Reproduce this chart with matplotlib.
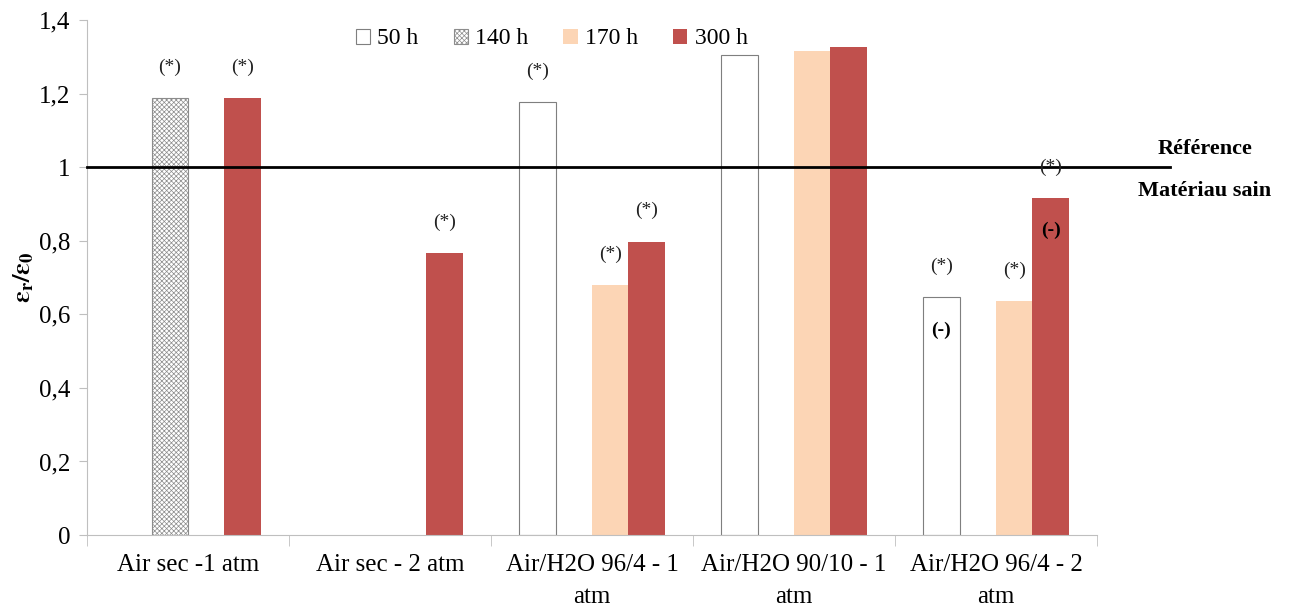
import numpy as np
import matplotlib
matplotlib.use('Agg')
import matplotlib.pyplot as plt
from matplotlib.patches import Patch

plt.rcParams['font.family'] = ['Liberation Serif', 'DejaVu Serif']
plt.rcParams['mathtext.fontset'] = 'stix'
plt.rcParams['hatch.linewidth'] = 0.5

categories = ['Air sec -1 atm', 'Air sec - 2 atm', 'Air/H2O 96/4 - 1\natm',
              'Air/H2O 90/10 - 1\natm', 'Air/H2O 96/4 - 2\natm']
series = ['50 h', '140 h', '170 h', '300 h']
# None = no bar for that duration
values = {
    '50 h':  [None, None, 1.178, 1.306, 0.646],
    '140 h': [1.188, None, None, None, None],
    '170 h': [None, None, 0.679, 1.316, 0.636],
    '300 h': [1.187, 0.766, 0.798, 1.327, 0.916],
}
# annotations placed above bars: (series, group)
star_marks = [('140 h', 0), ('300 h', 0), ('300 h', 1), ('50 h', 2), ('170 h', 2),
              ('300 h', 2), ('50 h', 4), ('170 h', 4), ('300 h', 4)]
minus_marks = [('50 h', 4), ('300 h', 4)]

styles = {
    '50 h':  dict(facecolor='white', edgecolor='#7f7f7f', linewidth=0.8),
    '140 h': dict(facecolor='white', edgecolor='#8c8c8c', linewidth=0.8, hatch='xxxxxxx'),
    '170 h': dict(facecolor='#FCD5B5', edgecolor='#FCD5B5', linewidth=0.0),
    '300 h': dict(facecolor='#C0504D', edgecolor='#C0504D', linewidth=0.0),
}

fig = plt.figure(figsize=(12.93, 6.08), dpi=100)
ax = fig.add_axes([0.0673, 0.12, 0.7811, 0.847])

x = np.arange(len(categories))
w = 0.18
offsets = {s: (i - 1.5) * w for i, s in enumerate(series)}

for s in series:
    xs = [x[i] + offsets[s] for i, v in enumerate(values[s]) if v is not None]
    ys = [v for v in values[s] if v is not None]
    ax.bar(xs, ys, width=w, zorder=2, **styles[s])

for s, g in star_marks:
    v = values[s][g]
    ax.text(x[g] + offsets[s], v + 0.06, '(*)', ha='center', va='bottom',
            fontsize=14, color='#222222', zorder=4)
for s, g in minus_marks:
    v = values[s][g]
    ax.text(x[g] + offsets[s], v - 0.065, '(-)', ha='center', va='top',
            fontsize=14, fontweight='bold', color='black', zorder=4)

# reference line at 1 extending past the plot area
trans = ax.get_yaxis_transform()
ax.plot([0, 1.072], [1, 1], color='black', linewidth=2, transform=trans,
        clip_on=False, zorder=3)
ax.text(1.107, 1.05, 'Référence', transform=trans, ha='center', va='center',
        fontsize=16, fontweight='bold')
ax.text(1.107, 0.935, 'Matériau sain', transform=trans, ha='center', va='center',
        fontsize=16, fontweight='bold')

ax.set_xlim(-0.5, len(categories) - 0.5)
ax.set_ylim(0, 1.4)
yt = np.arange(0, 1.41, 0.2)
ax.set_yticks(yt)
ax.set_yticklabels(['0', '0,2', '0,4', '0,6', '0,8', '1', '1,2', '1,4'], fontsize=18)
ax.set_xticks(x)
ax.set_xticklabels(categories, fontsize=18, linespacing=1.55, va='top')
ax.set_xticks(np.arange(-0.5, len(categories)), minor=True)
ax.tick_params(axis='x', which='major', length=0, pad=14)
ax.tick_params(axis='x', which='minor', length=8, color='#bfbfbf')
ax.tick_params(axis='y', length=6, color='#bfbfbf', pad=6)

for side in ['top', 'right']:
    ax.spines[side].set_visible(False)
for side in ['left', 'bottom']:
    ax.spines[side].set_color('#bfbfbf')

ax.set_ylabel(r'$\mathbf{ε_r/ε_0}$', fontsize=19, labelpad=2)

handles = [Patch(label=s, **styles[s]) for s in series]
ax.legend(handles=handles, loc='upper center', bbox_to_anchor=(0.46, 1.025), ncol=4,
          frameon=False, fontsize=17, handlelength=0.6, handleheight=0.6,
          handletextpad=0.3, columnspacing=1.5)

fig.savefig('out.png', dpi=100)
